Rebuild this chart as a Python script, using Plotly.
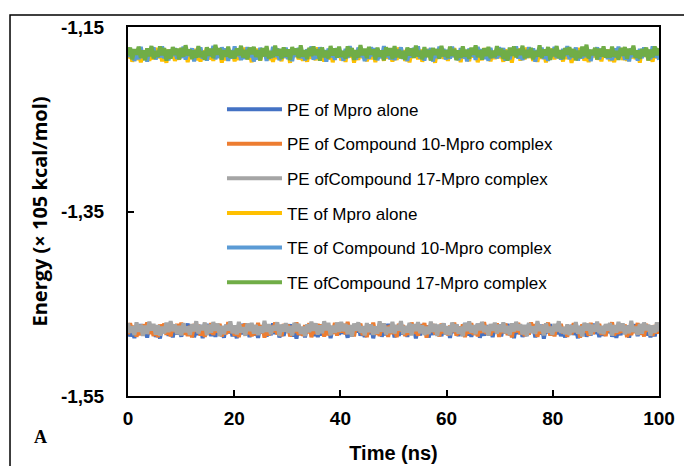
import numpy as np
import plotly.graph_objects as go

# Energy in units of 1e-4 (x 10^5 kcal/mol): mean level + per-frame deviation
series_names = [
    "PE of Mpro alone",
    "PE of Compound 10-Mpro complex",
    "PE ofCompound 17-Mpro complex",
    "TE of Mpro alone",
    "TE of Compound 10-Mpro complex",
    "TE ofCompound 17-Mpro complex",
]
series_colors = ["#4472C4", "#ED7D31", "#A5A5A5", "#FFC000", "#5B9BD5", "#70AD47"]

pe_mpro_level = -14792
pe_c10_level = -14781
pe_c17_level = -14768
te_mpro_level = -11802
te_c10_level = -11790
te_c17_level = -11780

pe_mpro_dev = [
    40,-62,18,-80,55,-30,70,-48,12,-75,60,-20,45,-68,30,-85,50,-10,66,-55,25,-72,58,-38,15,
    -64,48,-22,78,-50,34,-70,20,-44,62,-80,36,-16,72,-58,28,-66,52,-34,10,-76,64,-26,44,-60,
    22,-82,56,-40,74,-18,38,-70,60,-52,16,-78,46,-30,68,-62,24,-48,80,-36,54,-74,14,-56,42,
    -20,70,-64,32,-86,58,-44,26,-72,50,-12,76,-58,36,-68,18,-50,64,-40,48,-80,30,-24,72,-46,
    60,-34,20,-76,52,-62,40,-16,78,-54,28,-70,44,-38,66,-82,34,-22,58,-64,12,-48,74,-30,50,
    -72,26,-56,80,-42,18,-66,62,-28,46,-84,38,-52,70,-20,56,-74,32,-46,64,-14,42,-60,76,-36,
    28,-78,54,-24,68,-58,36,-40,82,-50,22,-66,48,-32,72,-76,16,-54,60,-44,30,-70,40,-18,66,
    -62,50,-28,74,-48,14,-80,58,-36,44,-68,26,-56,78,-22,52,-72,38,-42,64,-86,34,-26,70,-52,
    46,-38,80,-60,24,-74,56,-16,62,-46,36,-82,50,-28,68,-64,18,-50,76,-34,42,-70,30,-56,58,
    -24,72,-66,40,-78,20,-48,64,-32,54,-76,44,-14,68,-58,26,-42,82,-52,36,-72,16,-60,48,-30,
]
pe_c10_dev = [
    -50,70,-28,44,-76,16,-60,58,-34,80,-46,22,-68,40,-82,54,-18,66,-56,30,-72,48,-24,62,-40,
    76,-54,26,-70,42,-84,60,-20,52,-64,34,-78,18,-44,72,-58,38,-30,64,-74,20,-50,82,-36,46,
    -66,28,-80,56,-22,68,-48,36,-72,14,-58,74,-40,50,-86,30,-62,44,-26,78,-52,24,-70,60,-16,
    54,-74,40,-32,80,-56,18,-66,48,-38,70,-82,26,-46,62,-20,56,-76,34,-60,16,-42,74,-64,38,
    -28,62,-50,84,-44,22,-72,52,-14,66,-60,32,-80,46,-34,76,-54,20,-68,58,-24,40,-78,50,-46,
    36,-82,64,-18,48,-70,28,-56,78,-40,14,-64,54,-30,72,-86,42,-22,60,-52,30,-74,66,-38,20,
    -60,44,-24,76,-66,34,-48,58,-80,18,-42,70,-56,26,-72,50,-36,82,-46,12,-62,56,-28,68,-78,
    42,-36,66,-58,20,-84,48,-26,74,-50,38,-68,16,-54,80,-32,60,-76,24,-44,52,-20,78,-64,30,
    -72,54,-16,62,-40,28,-78,46,-52,70,-24,36,-86,58,-30,20,-66,74,-48,40,-14,64,-56,32,-70,
    50,-22,80,-62,26,-46,68,-34,56,-80,18,-58,44,-36,72,-52,30,-74,62,-18,40,-66,50,-42,76,
]
pe_c17_dev = [
    58,-46,24,-70,66,-34,42,-80,30,-58,74,-22,50,-66,36,-76,18,-52,62,-40,80,-28,44,-62,26,
    -74,56,-38,20,-68,48,-30,78,-54,34,-16,64,-72,40,-46,70,-24,52,-84,28,-60,38,-20,76,-50,
    32,-64,72,-42,14,-78,54,-26,60,-56,38,-70,22,-48,82,-36,46,-62,28,-18,68,-80,42,-34,58,
    -44,26,-76,62,-30,50,-58,18,-82,44,-40,74,-24,56,-66,34,-52,78,-20,60,-72,30,-46,64,-36,
    70,-28,48,-60,36,-86,52,-22,66,-44,24,-74,58,-38,40,-68,20,-56,76,-32,54,-64,16,-48,72,
    -54,38,-20,80,-62,28,-42,60,-76,46,-26,68,-50,32,-70,18,-58,74,-36,50,-80,42,-30,56,-66,
    24,-72,64,-34,44,-54,20,-84,58,-28,76,-46,36,-62,52,-18,70,-40,30,-78,48,-24,62,-56,40,
    -38,66,-52,26,-70,54,-32,72,-20,46,-64,38,-82,60,-44,22,-58,80,-26,34,-74,56,-42,18,-68,
    50,-30,78,-48,16,-62,44,-72,34,-40,68,-56,26,-86,62,-22,52,-66,40,-34,74,-50,28,-60,46,
    -20,58,-76,36,-44,70,-28,54,-64,30,-52,82,-38,20,-70,48,-56,64,-18,42,-78,32,-46,66,-34,
]
te_mpro_dev = [
    -40,62,-74,28,-56,46,-82,34,-20,70,-62,18,-48,76,-36,54,-70,24,-86,58,-30,44,-66,38,-52,
    72,-24,50,-78,32,-44,64,-58,20,-72,48,-34,80,-50,26,-64,56,-18,42,-84,36,-60,68,-28,46,
    -70,22,-54,60,-38,78,-46,30,-80,52,-26,66,-62,40,-16,74,-56,34,-76,48,-42,20,-68,62,-32,
    44,-86,56,-22,70,-50,36,-64,18,-74,58,-40,28,-58,82,-30,46,-72,24,-48,66,-80,38,-20,54,
    -60,32,-76,64,-28,48,-84,26,-54,72,-36,40,-70,20,-46,60,-78,50,-24,34,-64,76,-42,16,-72,
    38,-56,80,-34,52,-66,22,-82,44,-30,68,-48,58,-74,28,-18,62,-60,36,-86,54,-26,70,-44,30,
    -64,46,-20,74,-52,34,-78,56,-38,18,-68,62,-28,44,-80,30,-58,72,-22,50,-70,40,-46,64,-34,
    26,-74,60,-42,36,-84,48,-16,70,-62,24,-50,78,-32,42,-66,20,-76,56,-40,30,-82,52,-28,68,
    -48,58,-30,20,-72,66,-44,38,-86,28,-56,74,-36,50,-62,16,-78,44,-24,62,-52,34,-70,46,-18,
    56,-68,32,-80,48,-26,72,-54,22,-64,40,-38,78,-46,30,-84,58,-20,66,-60,28,-74,42,-36,60,
]
te_c10_dev = [
    66,-32,48,-78,22,-58,74,-44,36,-86,54,-18,70,-62,26,-40,80,-50,30,-72,46,-24,62,-56,18,
    -46,76,-64,34,-20,58,-82,42,-36,68,-54,24,-74,50,-28,84,-60,32,-44,70,-16,56,-78,38,-52,
    80,-26,44,-68,20,-56,72,-38,52,-84,30,-62,64,-22,40,-76,18,-48,74,-34,58,-70,28,-42,66,
    -58,36,-80,54,-30,62,-46,22,-72,48,-14,78,-64,32,-52,70,-24,40,-86,56,-36,20,-66,60,-40,
    28,-76,52,-44,82,-20,36,-62,68,-34,18,-80,46,-54,72,-26,60,-70,30,-48,84,-38,42,-60,24,
    -68,44,-22,70,-56,16,-78,54,-40,64,-30,80,-50,26,-74,48,-18,62,-84,34,-46,76,-28,52,-62,
    40,-54,78,-36,24,-70,60,-46,18,-82,56,-28,44,-66,74,-20,50,-58,32,-76,64,-42,22,-50,70,
    -32,62,-74,28,-60,46,-16,80,-52,38,-68,22,-44,72,-30,58,-86,40,-24,66,-56,30,-78,48,-20,
    74,-46,36,-64,54,-24,82,-58,26,-40,68,-72,20,-50,62,-36,44,-80,34,-18,70,-62,52,-28,40,
    -56,26,-70,58,-42,76,-22,48,-66,30,-82,60,-34,16,-74,52,-48,68,-26,42,-60,80,-38,24,-64,
]
te_c17_dev = [
    -30,58,-72,40,-18,66,-54,26,-80,48,-36,74,-60,20,-44,70,-26,52,-84,34,-62,62,-22,46,-70,
    54,-40,82,-28,38,-66,24,-52,72,-46,16,-76,60,-32,44,-58,86,-20,50,-74,30,-42,68,-56,22,
    -62,48,-24,76,-50,32,-70,56,-14,64,-44,28,-82,52,-36,72,-60,18,-48,78,-30,42,-66,58,-38,
    36,-78,62,-20,46,-56,80,-42,28,-68,54,-34,70,-24,40,-86,58,-46,22,-60,74,-28,48,-52,66,
    -44,20,-64,70,-36,52,-76,30,-50,84,-26,44,-58,64,-18,36,-72,56,-40,26,-80,60,-32,50,-66,
    72,-48,34,-60,18,-74,58,-28,46,-54,78,-38,24,-70,62,-44,32,-82,52,-22,40,-64,76,-36,28,
    -56,66,-30,44,-78,26,-52,70,-42,34,-64,56,-20,80,-48,30,-74,48,-34,64,-58,22,-46,72,-26,
    46,-64,24,-84,56,-32,68,-50,38,-22,76,-60,30,-46,54,-70,20,-40,82,-54,36,-28,62,-76,42,
    -36,74,-58,28,-68,50,-20,60,-46,40,-80,24,-56,66,-34,88,-62,32,-24,54,-72,46,-40,70,-52,
    32,-50,66,-42,20,-76,52,-30,62,-64,44,-18,78,-54,26,-66,40,-36,58,-82,34,-48,70,-24,50,
]

levels = [pe_mpro_level, pe_c10_level, pe_c17_level, te_mpro_level, te_c10_level, te_c17_level]
devs = [pe_mpro_dev, pe_c10_dev, pe_c17_dev, te_mpro_dev, te_c10_dev, te_c17_dev]

y_tick_vals = [-1.55, -1.35, -1.15]
y_tick_text = ["-1,55", "-1,35", "-1,15"]
x_tick_vals = [0, 20, 40, 60, 80, 100]
t_start, t_end = 0, 100

fig = go.Figure()
for i, (name, color, lvl, dev) in enumerate(zip(series_names, series_colors, levels, devs)):
    y = (lvl + np.array(dev)) / 10000.0
    x = np.linspace(t_start, t_end, len(y))
    fig.add_trace(go.Scatter(
        x=x, y=y, mode="lines", name=name, legendgroup=f"g{i}",
        line=dict(color=color, width=4, simplify=False),
    ))

tick_font = dict(family="Liberation Sans, Arial, sans-serif", size=19, color="black", weight="bold")

fig.update_layout(
    width=684, height=466,
    margin=dict(l=128, r=25, t=27, b=70, autoexpand=False),
    paper_bgcolor="white", plot_bgcolor="white",
    showlegend=True,
    legend=dict(
        x=0.177, y=0.825, xanchor="left", yanchor="top",
        bgcolor="rgba(0,0,0,0)", tracegroupgap=9.5, traceorder="grouped",
        itemwidth=55,
        font=dict(family="Liberation Sans, Arial, sans-serif", size=17, color="black"),
    ),
    xaxis=dict(
        range=[0, 100], tickvals=x_tick_vals, ticks="inside", ticklen=6, tickwidth=1.5,
        tickcolor="black", showline=True, linecolor="black", linewidth=2, mirror=True,
        showgrid=False, zeroline=False, tickfont=tick_font, ticklabelstandoff=4,
        automargin=False,
        title=dict(text="Time (ns)", font=dict(family="Liberation Sans, Arial, sans-serif",
                                               size=20, color="black", weight="bold"),
                   standoff=18),
    ),
    yaxis=dict(
        range=[-1.55, -1.15], tickvals=y_tick_vals, ticktext=y_tick_text, ticks="inside",
        ticklen=6, tickwidth=1.5, tickcolor="black", showline=True, linecolor="black",
        linewidth=2, mirror=True, showgrid=False, zeroline=False, tickfont=tick_font,
        ticklabelstandoff=18, automargin=False,
        title=dict(text="Energy (× 105 kcal/mol)",
                   font=dict(family="Open Sans, sans-serif", size=20, color="black", weight="bold"),
                   standoff=8),
    ),
)

# outer figure frame
fig.add_shape(type="rect", xref="paper", yref="paper",
              x0=-0.2222, x1=1.1, y0=-0.3, y1=1.0325,
              line=dict(color="black", width=1.5), layer="below")

fig.add_annotation(text="A", xref="paper", yref="paper", x=-0.164, y=-0.111,
                   showarrow=False, xanchor="center", yanchor="middle",
                   font=dict(family="Liberation Serif, serif", size=18, color="black", weight="bold"))

fig.write_html("out.html")
